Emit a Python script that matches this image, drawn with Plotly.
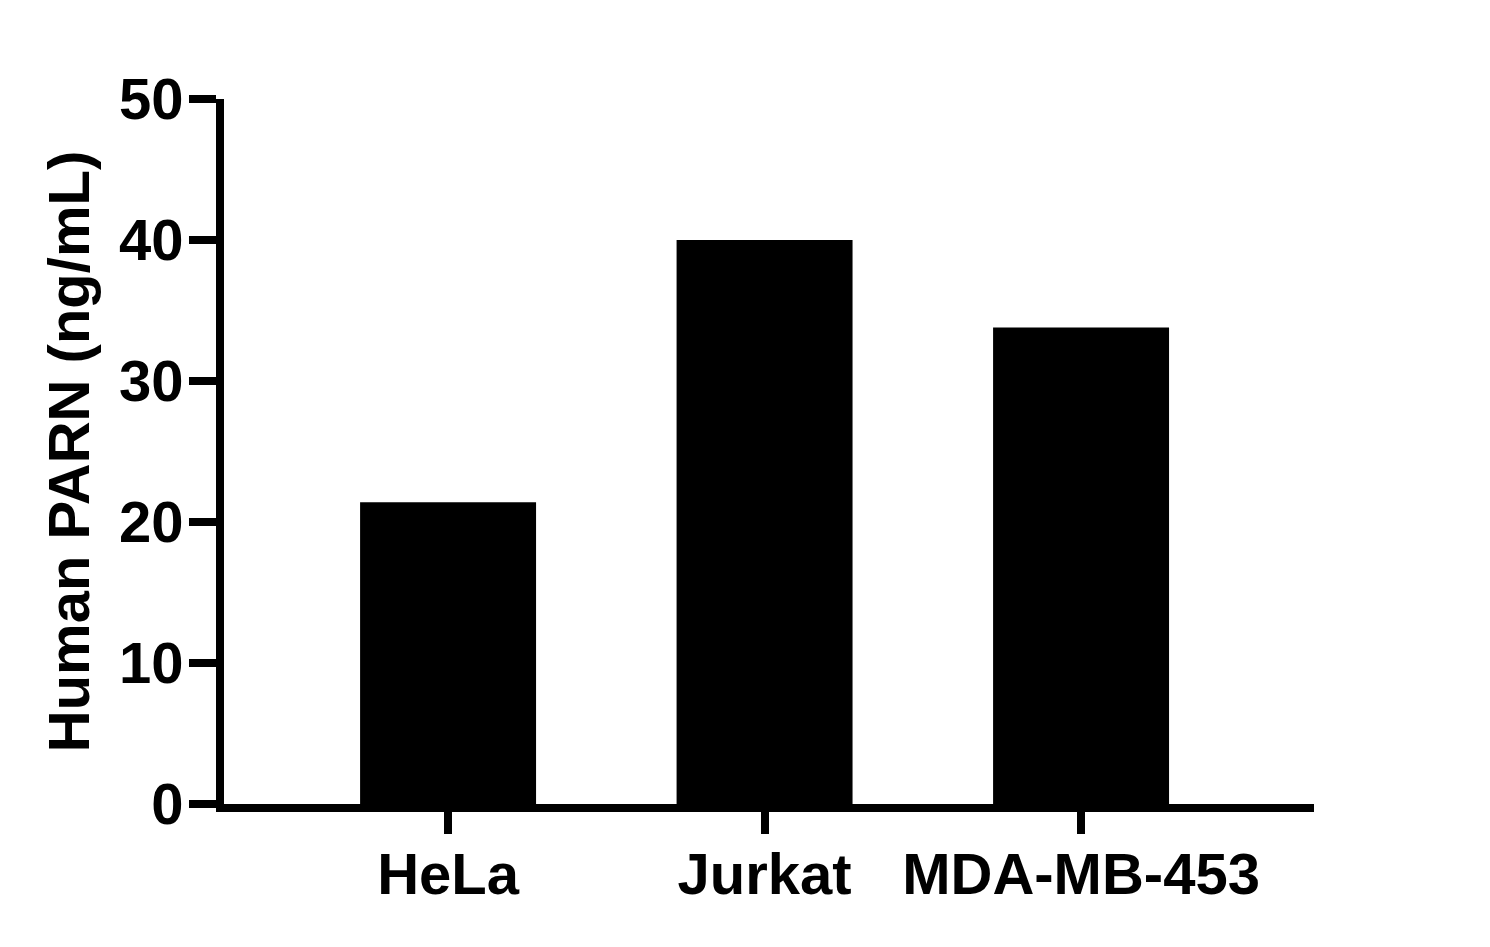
import plotly.graph_objects as go

# cell lines and measured PARN levels (ng/mL)
cell_lines = ['HeLa', 'Jurkat', 'MDA-MB-453']
parn_ng_ml = [21.4, 40.0, 33.8]

y_ticks = [0, 10, 20, 30, 40, 50]

font = 'Liberation Sans, Arial, sans-serif'

fig = go.Figure()
fig.add_trace(go.Bar(x=cell_lines, y=parn_ng_ml, width=0.556,
                     marker=dict(color='black', line=dict(width=0))))

fig.update_layout(
    width=1490, height=947,
    margin=dict(l=216, r=184, t=91, b=151),
    paper_bgcolor='white', plot_bgcolor='white',
    showlegend=False,
    font=dict(family=font, size=58, color='black'),
)

# x axis: categories with short ticks below the line
fig.update_xaxes(range=[-0.708, 2.736], showline=True, linewidth=8, linecolor='black',
                 ticks='outside', ticklen=22, tickwidth=8, tickcolor='black',
                 ticklabelstandoff=-10,
                 showgrid=False, zeroline=False,
                 tickfont=dict(family=font, size=58, color='black', weight='bold'))

fig.update_yaxes(range=[0, 50], tickvals=y_ticks, showline=True, linewidth=8, linecolor='black',
                 ticks='outside', ticklen=27, tickwidth=8, tickcolor='black',
                 ticklabelstandoff=-6,
                 showgrid=False, zeroline=False,
                 tickfont=dict(family=font, size=58, color='black', weight='bold'),
                 title=dict(text='Human PARN (ng/mL)', standoff=14,
                            font=dict(family=font, size=58, color='black', weight='bold')))

fig.write_html('out.html')
